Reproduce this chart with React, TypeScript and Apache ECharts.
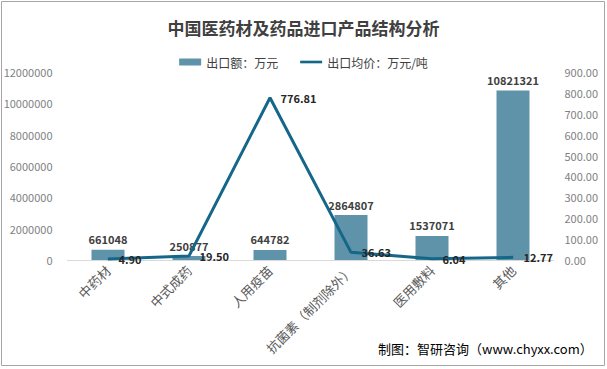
import React, { useEffect, useRef } from "react";
import * as echarts from "echarts";

const categories = ["中药材", "中式成药", "人用疫苗", "抗菌素（制剂除外）", "医用敷料", "其他"];
const amountValues = [661048, 250877, 644782, 2864807, 1537071, 10821321];
const priceValues = [4.9, 19.5, 776.81, 36.63, 6.04, 12.77];
const leftTicks = { min: 0, max: 12000000, interval: 2000000 };
const rightTicks = { min: 0, max: 900, interval: 100 };

const FONT = "'Noto Sans CJK SC', 'Microsoft YaHei', sans-serif";
const LINE_COLOR = "#15678a";

export default function App() {
  const ref = useRef<HTMLDivElement>(null);
  useEffect(() => {
    const chart = echarts.init(ref.current!, null, { renderer: "svg" });
    chart.setOption({
      animation: false,
      backgroundColor: "#fff",
      textStyle: { fontFamily: FONT },
      title: {
        text: "中国医药材及药品进口产品结构分析",
        left: "center",
        top: 14,
        textStyle: { fontSize: 17, fontWeight: "bold", color: "#404040", fontFamily: FONT },
      },
      legend: {
        top: 51,
        left: "center",
        itemGap: 22,
        itemWidth: 22,
        itemHeight: 7,
        textStyle: { fontSize: 12, color: "#404040", fontFamily: FONT },
        data: [
          { name: "出口额：万元", icon: "rect" },
          { name: "出口均价：万元/吨", icon: "path://M0,0h25v3h-25z" },
        ],
      },
      grid: { left: 67.5, right: 53.5, top: 72, bottom: 109 },
      xAxis: {
        type: "category",
        data: categories,
        axisLine: { lineStyle: { color: "#d9d9d9" } },
        axisTick: { show: false },
        axisLabel: { rotate: 45, fontSize: 13, color: "#595959", margin: 8, interval: 0, fontFamily: FONT },
      },
      yAxis: [
        {
          type: "value",
          ...leftTicks,
          splitLine: { show: false },
          axisLine: { show: false },
          axisLabel: { fontSize: 11, color: "#7f7f7f", margin: 15, formatter: (v: number) => String(v) },
        },
        {
          type: "value",
          ...rightTicks,
          splitLine: { show: false },
          axisLine: { show: false },
          axisLabel: { fontSize: 11, color: "#7f7f7f", margin: 11, formatter: (v: number) => v.toFixed(2) },
        },
      ],
      series: [
        {
          name: "出口额：万元",
          type: "bar",
          data: amountValues,
          barWidth: 33,
          itemStyle: { color: "#5e93aa" },
          label: { show: true, position: "top", fontSize: 11, fontWeight: "bold", color: "#404040", distance: 5 },
        },
        {
          name: "出口均价：万元/吨",
          type: "line",
          yAxisIndex: 1,
          data: priceValues,
          symbol: "circle",
          symbolSize: 1,
          showSymbol: true,
          lineStyle: { width: 3, color: LINE_COLOR },
          itemStyle: { color: LINE_COLOR },
          label: {
            show: true,
            position: "right",
            fontSize: 11,
            fontWeight: "bold",
            color: "#262626",
            distance: 10,
            formatter: (p: any) => Number(p.value).toFixed(2),
          },
        },
      ],
      graphic: [
        {
          type: "rect",
          shape: { x: 1.5, y: 1.5, width: 603, height: 364 },
          style: { fill: "none", stroke: "#a6a6a6", lineWidth: 1 },
          silent: true,
        },
        {
          type: "text",
          left: 378,
          top: 342,
          style: { text: "制图：智研咨询（www.chyxx.com）", font: `13px ${FONT}`, fill: "#000" },
        },
      ],
    });
    return () => chart.dispose();
  }, []);
  return <div ref={ref} style={{ position: "fixed", left: 0, top: 0, width: 607, height: 369 }} />;
}
